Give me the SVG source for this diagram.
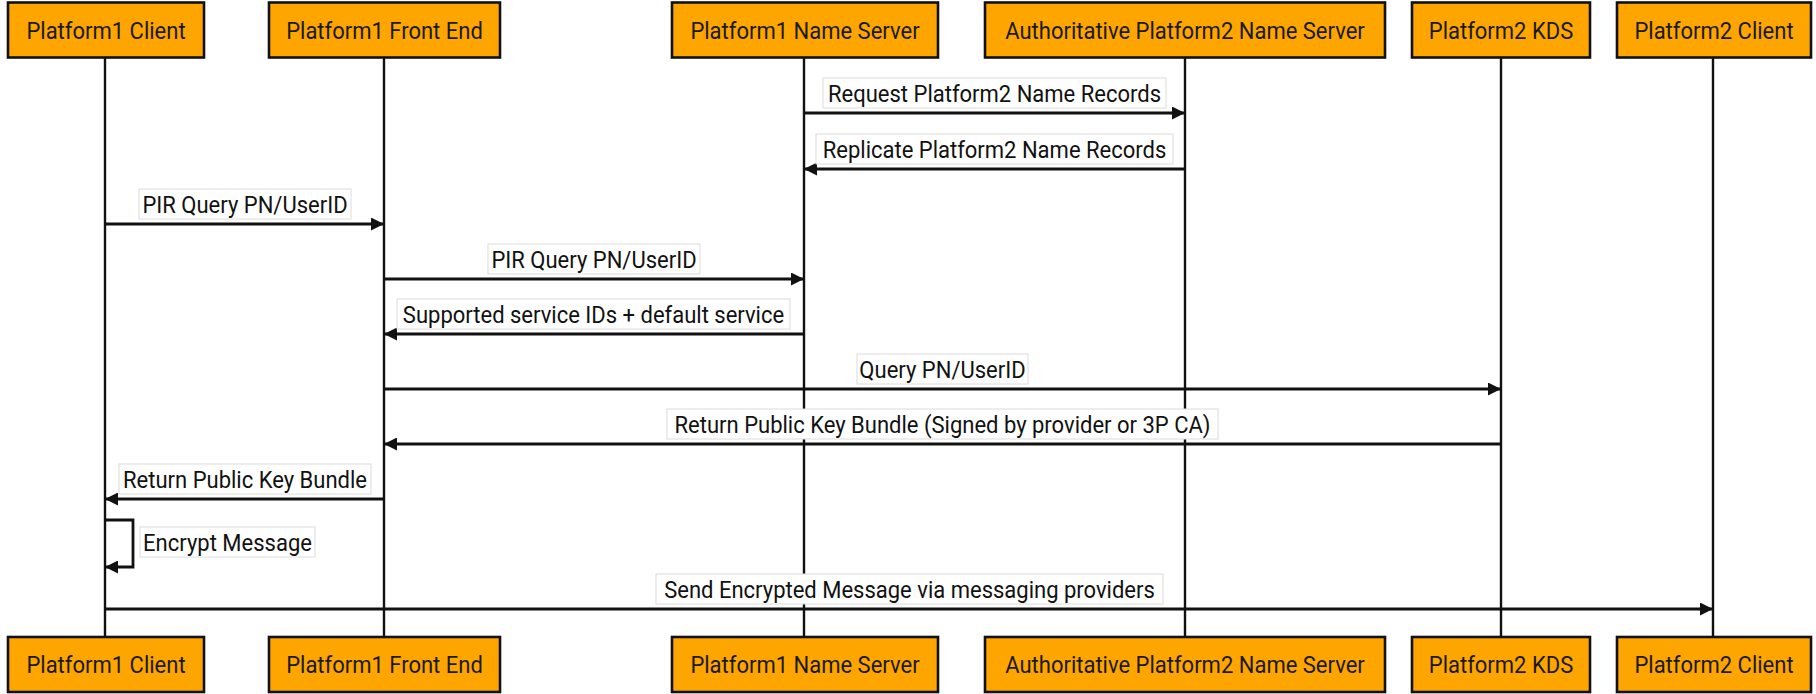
<svg xmlns="http://www.w3.org/2000/svg" width="1816" height="694" viewBox="0 0 1816 694">
  <defs>
    <style>
      .actor rect { fill: #FFA500; stroke: #111; stroke-width: 2.6; }
      .actor text { font-family: Roboto, "Liberation Sans", sans-serif; font-size: 24px; fill: #1a1a1a; text-anchor: middle; }
      .lifeline { stroke: #111; stroke-width: 2.4; fill: none; }
      .msg { stroke: #111; stroke-width: 2.8; fill: none; }
      .lbl rect { fill: #fff; stroke: #dcdcdc; stroke-width: 1; }
      .lbl text { font-family: Roboto, "Liberation Sans", sans-serif; font-size: 24px; fill: #111; text-anchor: middle; }
    </style>
    <marker id="head" viewBox="0 0 12 12" refX="12" refY="6" markerWidth="13" markerHeight="13" markerUnits="userSpaceOnUse" orient="auto">
      <path d="M0,0 L12,6 L0,12 Z" fill="#111"/>
    </marker>
  </defs>

  <rect width="1816" height="694" fill="#fff"/>

  <!-- lifelines -->
  <g id="lifelines">
    <line class="lifeline" x1="105" y1="58" x2="105" y2="637"/>
    <line class="lifeline" x1="384" y1="58" x2="384" y2="637"/>
    <line class="lifeline" x1="804" y1="58" x2="804" y2="637"/>
    <line class="lifeline" x1="1185" y1="58" x2="1185" y2="637"/>
    <line class="lifeline" x1="1501" y1="58" x2="1501" y2="637"/>
    <line class="lifeline" x1="1713" y1="58" x2="1713" y2="637"/>
  </g>

  <!-- participants, top row (text narrowed slightly to the condensed look) -->
  <g id="p1-client" class="actor">
    <rect x="8" y="2.5" width="196" height="55"/>
    <text transform="translate(106,38.5) scale(0.917,1)">Platform1 Client</text>
  </g>
  <g id="p1-frontend" class="actor">
    <rect x="269" y="2.5" width="231" height="55"/>
    <text transform="translate(384.5,38.5) scale(0.917,1)">Platform1 Front End</text>
  </g>
  <g id="p1-nameserver" class="actor">
    <rect x="672" y="2.5" width="266" height="55"/>
    <text transform="translate(805,38.5) scale(0.917,1)">Platform1 Name Server</text>
  </g>
  <g id="p2-auth-nameserver" class="actor">
    <rect x="985" y="2.5" width="400" height="55"/>
    <text transform="translate(1185,38.5) scale(0.917,1)">Authoritative Platform2 Name Server</text>
  </g>
  <g id="p2-kds" class="actor">
    <rect x="1412" y="2.5" width="178" height="55"/>
    <text transform="translate(1501,38.5) scale(0.917,1)">Platform2 KDS</text>
  </g>
  <g id="p2-client" class="actor">
    <rect x="1617" y="2.5" width="194" height="55"/>
    <text transform="translate(1714,38.5) scale(0.917,1)">Platform2 Client</text>
  </g>

  <!-- participants, bottom row -->
  <g id="p1-client-foot" class="actor">
    <rect x="8" y="637" width="196" height="55"/>
    <text transform="translate(106,673) scale(0.917,1)">Platform1 Client</text>
  </g>
  <g id="p1-frontend-foot" class="actor">
    <rect x="269" y="637" width="231" height="55"/>
    <text transform="translate(384.5,673) scale(0.917,1)">Platform1 Front End</text>
  </g>
  <g id="p1-nameserver-foot" class="actor">
    <rect x="672" y="637" width="266" height="55"/>
    <text transform="translate(805,673) scale(0.917,1)">Platform1 Name Server</text>
  </g>
  <g id="p2-auth-nameserver-foot" class="actor">
    <rect x="985" y="637" width="400" height="55"/>
    <text transform="translate(1185,673) scale(0.917,1)">Authoritative Platform2 Name Server</text>
  </g>
  <g id="p2-kds-foot" class="actor">
    <rect x="1412" y="637" width="178" height="55"/>
    <text transform="translate(1501,673) scale(0.917,1)">Platform2 KDS</text>
  </g>
  <g id="p2-client-foot" class="actor">
    <rect x="1617" y="637" width="194" height="55"/>
    <text transform="translate(1714,673) scale(0.917,1)">Platform2 Client</text>
  </g>

  <!-- messages -->
  <g id="connectors">
    <line class="msg" x1="804" y1="113" x2="1185" y2="113" marker-end="url(#head)"/>
    <line class="msg" x1="1185" y1="169" x2="804" y2="169" marker-end="url(#head)"/>
    <line class="msg" x1="105" y1="224" x2="384" y2="224" marker-end="url(#head)"/>
    <line class="msg" x1="384" y1="279" x2="804" y2="279" marker-end="url(#head)"/>
    <line class="msg" x1="804" y1="334" x2="384" y2="334" marker-end="url(#head)"/>
    <line class="msg" x1="384" y1="389" x2="1501" y2="389" marker-end="url(#head)"/>
    <line class="msg" x1="1501" y1="444" x2="384" y2="444" marker-end="url(#head)"/>
    <line class="msg" x1="384" y1="499" x2="105" y2="499" marker-end="url(#head)"/>
    <polyline class="msg" points="105,520 133,520 133,567 105,567" marker-end="url(#head)"/>
    <line class="msg" x1="105" y1="609" x2="1713" y2="609" marker-end="url(#head)"/>
  </g>

  <!-- message labels -->
  <g id="labels" class="lbl">
    <rect x="823" y="78" width="343" height="30"/>
    <text transform="translate(994.5,101.5) scale(0.917,1)">Request Platform2 Name Records</text>

    <rect x="816" y="134" width="357" height="30"/>
    <text transform="translate(994.5,157.5) scale(0.917,1)">Replicate Platform2 Name Records</text>

    <rect x="139" y="189" width="212" height="30"/>
    <text transform="translate(245,212.5) scale(0.917,1)">PIR Query PN/UserID</text>

    <rect x="488" y="244" width="212" height="30"/>
    <text transform="translate(594,267.5) scale(0.917,1)">PIR Query PN/UserID</text>

    <rect x="397" y="299" width="393" height="30"/>
    <text transform="translate(593.5,322.5) scale(0.917,1)">Supported service IDs + default service</text>

    <rect x="857" y="354" width="171" height="30"/>
    <text transform="translate(942.5,377.5) scale(0.917,1)">Query PN/UserID</text>

    <rect x="667" y="409" width="551" height="30"/>
    <text transform="translate(942.5,432.5) scale(0.917,1)">Return Public Key Bundle (Signed by provider or 3P CA)</text>

    <rect x="119" y="464" width="252" height="30"/>
    <text transform="translate(245,487.5) scale(0.917,1)">Return Public Key Bundle</text>

    <rect x="140" y="527" width="175" height="30"/>
    <text transform="translate(227.5,550.5) scale(0.917,1)">Encrypt Message</text>

    <rect x="656" y="574" width="507" height="30"/>
    <text transform="translate(909.5,597.5) scale(0.917,1)">Send Encrypted Message via messaging providers</text>
  </g>
</svg>
